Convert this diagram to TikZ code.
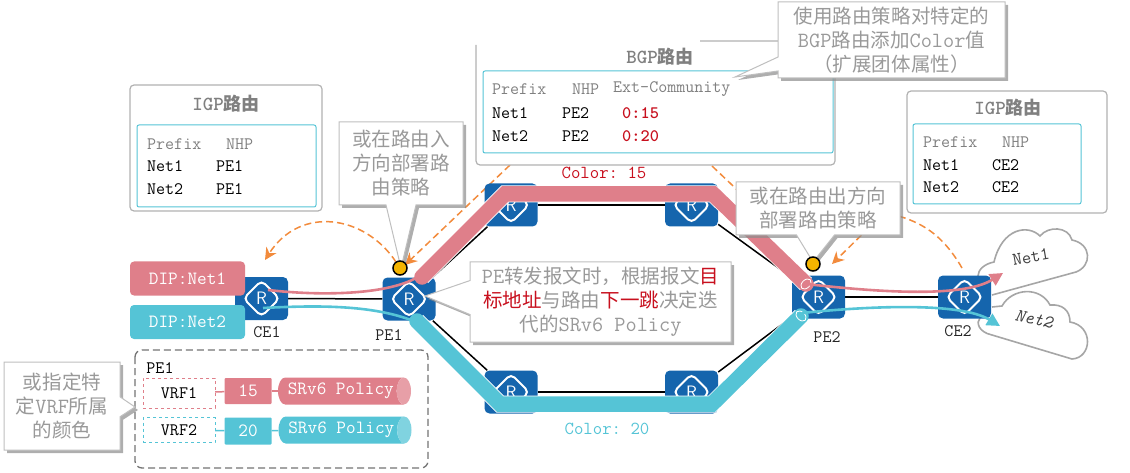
\documentclass[tikz,border=0pt]{standalone}
\usepackage{fontspec}
\newfontfamily\cjk[Scale=0.9]{Noto Sans CJK SC}
\renewcommand*{\familydefault}{\ttdefault}
\usetikzlibrary{shapes.callouts,shapes.geometric,shadows,arrows.meta,backgrounds}
\definecolor{pinkc}{HTML}{DF7F8A}
\definecolor{tealc}{HTML}{55C4D6}
\definecolor{bluec}{HTML}{1565AD}
\definecolor{orangec}{HTML}{F28B3C}
\definecolor{yellowc}{HTML}{F5B400}
\definecolor{redc}{HTML}{C8101E}
\newcommand{\zh}[1]{{\cjk #1}}
\begin{document}
\begin{tikzpicture}[x=1pt,y=-1pt]
    \tikzset{
        router/.style={fill=bluec,rounded corners=5pt,minimum width=53pt,minimum height=43pt,inner sep=0pt,
            path picture={
                \draw[white,line width=2pt] ([xshift=-18pt]path picture bounding box.center) -- ([yshift=18pt]path picture bounding box.center)
                    -- ([xshift=18pt]path picture bounding box.center) -- ([yshift=-18pt]path picture bounding box.center) -- cycle;
                \node[white,font=\sffamily\fontsize{18}{18}\selectfont] at (path picture bounding box.center) {R};
            }},
        link/.style={black,line width=1.5pt},
        tube/.style={line width=15.5pt,line join=miter,preaction={draw=white,line width=17pt}},
        flow/.style={line width=2.6pt,-{Triangle[length=13pt,width=13pt]}},
        flowend/.style={line width=2.6pt},
        hint/.style={orangec,line width=1.5pt,dash pattern=on 7pt off 4pt},
        hinttip/.style={hint,-{Stealth[length=12pt,width=12pt]}},
        panel/.style={draw=black!30,line width=1.2pt,rounded corners=4pt,fill=white},
        inner/.style={draw=tealc,line width=1pt,rounded corners=2pt,fill=white},
        say/.style={rectangle callout,draw=black!25,fill=white,line width=1pt,align=center,inner sep=0pt,
            text=black!40,font=\fontsize{21.7}{24}\selectfont,callout pointer width=14pt,
            drop shadow={shadow xshift=3pt,shadow yshift=-3pt,fill=black!45,opacity=.7}},
        title/.style={text=black!50,font=\fontsize{20}{20}\selectfont\bfseries},
        row/.style={anchor=west,inner sep=0pt,font=\fontsize{17.5}{18}\selectfont},
        head/.style={row,text=black!50},
        dev/.style={font=\fontsize{17.5}{18}\selectfont,inner sep=0pt,text=black!85},
        dip/.style={rounded corners=4pt,text=white,minimum width=115pt,minimum height=34pt,inner sep=0pt,font=\fontsize{18.7}{19}\selectfont},
        vrf/.style={draw,dashed,fill=white,text=black,minimum width=72pt,inner sep=0pt,font=\fontsize{17.5}{18}\selectfont},
        num/.style={rounded corners=1pt,text=white,minimum width=47pt,inner sep=0pt,font=\fontsize{18.7}{19}\selectfont},
        policy/.style={cylinder,shape aspect=.9,anchor=shape center,cylinder uses custom fill,inner sep=0pt,text=white,
            minimum height=133pt,minimum width=27pt,font=\fontsize{18.7}{19}\selectfont},
        spot/.style={circle,draw=black,line width=1.5pt,fill=yellowc,minimum size=14pt,inner sep=0pt},
    }
    \useasboundingbox (0,0) rectangle (1130,473);
    % dashed hints
    \coordinate (hintA) at (396,262);
    \coordinate (hintB) at (265,260);
    \coordinate (hintC) at (510,165);
    \coordinate (hintD) at (405,265);
    \coordinate (hintE) at (712,166);
    \coordinate (hintF) at (750,202);
    \coordinate (hintG) at (962,268);
    \coordinate (hintH) at (885,212);
    \coordinate (hintI) at (832,264);
    \draw[hinttip] (hintA) .. controls (365,215) and (300,205) .. (hintB);
    \draw[hinttip] (hintC) -- (hintD);
    \draw[hint] (hintE) -- (hintF);
    \draw[hint] (hintG) .. controls (940,230) and (915,218) .. (880,212);
    \draw[hinttip] (hintH) -- (hintI);
    % clouds
    \draw[draw=black!35,line width=1.6pt,fill=white] (992,295) -- (1076,272) .. controls (1092,266) and (1092,244) .. (1072,240)
        .. controls (1068,226) and (1048,226) .. (1040,236) .. controls (1028,224) and (1002,228) .. (994,262)
        .. controls (984,264) and (978,270) .. (978,276);
    \draw[draw=black!35,line width=1.6pt,fill=white] (992,307) -- (1002,306) .. controls (1012,288) and (1040,286) .. (1050,305)
        .. controls (1062,304) and (1070,310) .. (1070,322) .. controls (1094,326) and (1092,358) .. (1072,359)
        -- (992,335) .. controls (978,332) and (976,322) .. (980,318);
    \node[inner sep=0pt,rotate=10,text=black!75,font=\fontsize{18}{18}\selectfont] (net1) at (1031,257) {Net1};
    \node[inner sep=0pt,rotate=-12,text=black!75,font=\itshape\fontsize{18}{18}\selectfont] (net2) at (1034,319) {Net2};
    % routers
    \node[router] (CE1) at (261.5,298.5) {};
    \node[router] (PE1) at (409,299) {};
    \node[router] (PE2) at (818.5,297) {};
    \node[router] (CE2) at (964.5,297) {};
    \node[router] (Ta) at (511,205) {};
    \node[router] (Tb) at (691.5,205) {};
    \node[router] (Ba) at (511,392) {};
    \node[router] (Bb) at (691.5,392) {};
    \begin{scope}[on background layer]
        \draw[link] (CE1) -- (PE1);
        \draw[link] (PE2) -- (CE2);
        \draw[link] (PE1) -- (Ta);
        \draw[link] (Ta) -- (Tb);
        \draw[link] (Tb) -- (PE2);
        \draw[link] (PE1) -- (Ba);
        \draw[link] (Ba) -- (Bb);
        \draw[link] (Bb) -- (PE2);
    \end{scope}
    % tunnels
    \draw[tube,pinkc,line cap=round] (422,277) -- (505,194) -- (713,194) -- (806,284);
    \draw[tube,tealc,line cap=round] (417,321) -- (500,404) -- (712,404) -- (801,316);
    \draw[white,fill=pinkc,line width=.8pt,rotate around={45:(806,284)}] (806,284) ellipse (6pt and 4pt);
    \draw[white,fill=tealc,line width=.8pt,rotate around={-45:(801,316)}] (801,316) ellipse (6pt and 4pt);
    % flows
    \coordinate (flowA) at (268,290);
    \coordinate (flowB) at (416,278);
    \coordinate (flowC) at (806,284);
    \coordinate (flowD) at (1003,273);
    \coordinate (flowE) at (263,308);
    \coordinate (flowF) at (416,322);
    \coordinate (flowG) at (802,313);
    \coordinate (flowH) at (1000,326);
    \draw[flowend,pinkc] (flowA) .. controls (320,296) and (385,295) .. (flowB);
    \draw[flow,pinkc] (flowC) .. controls (860,290) and (960,300) .. (flowD);
    \draw[flowend,tealc] (flowE) .. controls (320,305) and (375,305) .. (flowF);
    \draw[flow,tealc] (flowG) .. controls (870,306) and (960,302) .. (flowH);
    % device labels
    \node[dev] (ce1txt) at (267,332) {CE1};
    \node[dev] (pe1txt) at (389,335) {PE1};
    \node[dev] (pe2txt) at (827,337) {PE2};
    \node[dev] (ce2txt) at (958,331) {CE2};
    \node[dip,fill=pinkc] (dipa) at (187.5,278.5) {DIP:Net1};
    \node[dip,fill=tealc] (dipb) at (187.5,322) {DIP:Net2};
    \node[inner sep=0pt,text=redc,font=\fontsize{18.3}{18}\selectfont] (cola) at (604,173) {Color:~15};
    \node[inner sep=0pt,text=tealc,font=\fontsize{18.3}{18}\selectfont] (colb) at (607,429) {Color:~20};
    % left table
    \draw[panel] (130,85) rectangle (322,211);
    \draw[inner] (137,125) rectangle (316,207);
    \node[title] (igpa) at (226,104) {IGP\zh{路由}};
    \node[head] (igpa1) at (147,144) {Prefix};
    \node[head] (igpa2) at (226,144) {NHP};
    \foreach \i/\y in {1/166,2/189}{
        \node[row] (igpan\i) at (147,\y) {Net\i};
        \node[row] (igpap\i) at (216,\y) {PE1};
    }
    % middle table
    \draw[panel] (476,45) -- (476,165) -- (835,165) -- (835,41) -- (700,41);
    \draw[inner] (483,71) rectangle (833,153);
    \node[title] (bgp) at (660,57) {BGP\zh{路由}};
    \node[head] (bgp1) at (492,89) {Prefix};
    \node[head] (bgp2) at (572,89) {NHP};
    \node[head] (bgp3) at (613,89) {Ext-Community};
    \foreach \i/\y/\c in {1/113/15,2/136/20}{
        \node[row] (bgpn\i) at (492,\y) {Net\i};
        \node[row] (bgpp\i) at (562,\y) {PE2};
        \node[row,text=redc,font=\fontsize{17.5}{18}\selectfont\bfseries] (bgpc\i) at (622,\y) {0:\c};
    }
    % right table
    \draw[panel] (907,91) rectangle (1107,213);
    \draw[inner] (913,124) rectangle (1081,204);
    \node[title] (igpb) at (1008,108) {IGP\zh{路由}};
    \node[head] (igpb1) at (923,142) {Prefix};
    \node[head] (igpb2) at (1002,142) {NHP};
    \foreach \i/\y in {1/165,2/187}{
        \node[row] (igpbn\i) at (923,\y) {Net\i};
        \node[row] (igpbp\i) at (992,\y) {CE2};
    }
    % vrf box
    \draw[draw=black!55,line width=1.3pt,dash pattern=on 7pt off 4pt,rounded corners=7pt] (135,350) rectangle (428,468);
    \node[dev,text=black] (pebox) at (160,368) {PE1};
    \node[policy,cylinder body fill=pinkc,cylinder end fill=pinkc!75!white] (pola) at (344.5,391) {SRv6 Policy};
    \node[policy,cylinder body fill=tealc,cylinder end fill=tealc!75!white] (polb) at (345,430) {SRv6 Policy};
    \node[vrf,draw=pinkc,minimum height=30pt] (vrfa) at (179,393) {VRF1};
    \node[vrf,draw=tealc,minimum height=25pt] (vrfb) at (179,430) {VRF2};
    \node[num,fill=pinkc,minimum height=26pt] (numa) at (248,391) {15};
    \node[num,fill=tealc,minimum height=27pt] (numb) at (248,431) {20};
    \draw[pinkc,line width=1.5pt] (vrfa) -- (numa);
    \draw[pinkc,line width=1.5pt] (numa) -- (pola);
    \draw[tealc,line width=1.5pt] (vrfb) -- (numb);
    \draw[tealc,line width=1.5pt] (numb) -- (polb);
    % notes
    \node[say,minimum width=227pt,minimum height=76pt,callout absolute pointer={(735,77)}] (noa) at (891.5,40)
        {\zh{使用路由策略对特定的}\\BGP\zh{路由添加}Color\zh{值}\\\zh{（扩展团体属性）}};
    \node[say,callout pointer width=30pt,minimum width=124pt,minimum height=83pt,callout absolute pointer={(401,268)}] (nob) at (401,163.5)
        {\zh{或在路由入}\\\zh{方向部署路}\\\zh{由策略}};
    \node[say,callout pointer width=34pt,minimum width=261pt,minimum height=80pt,callout absolute pointer={(425,296)}] (noc) at (600.5,302)
        {PE\zh{转发报文时，根据报文{\color{redc}目}}\\\zh{{\color{redc}标地址}与路由{\color{redc}下一跳}决定迭}\\\zh{代的}SRv6 Policy};
    \node[say,callout pointer width=38pt,minimum width=164pt,minimum height=53pt,callout absolute pointer={(813,262)}] (nod) at (818,208.5)
        {\zh{或在路由出方向}\\\zh{部署路由策略}};
    \node[say,callout pointer width=20pt,minimum width=116pt,minimum height=88pt,callout absolute pointer={(135,407)}] (noe) at (62,406)
        {\zh{或指定特}\\\zh{定}VRF\zh{所属}\\\zh{的颜色}};
    \node[spot] (spota) at (400,268) {};
    \node[spot] (spotb) at (813,264) {};
\end{tikzpicture}
\end{document}
